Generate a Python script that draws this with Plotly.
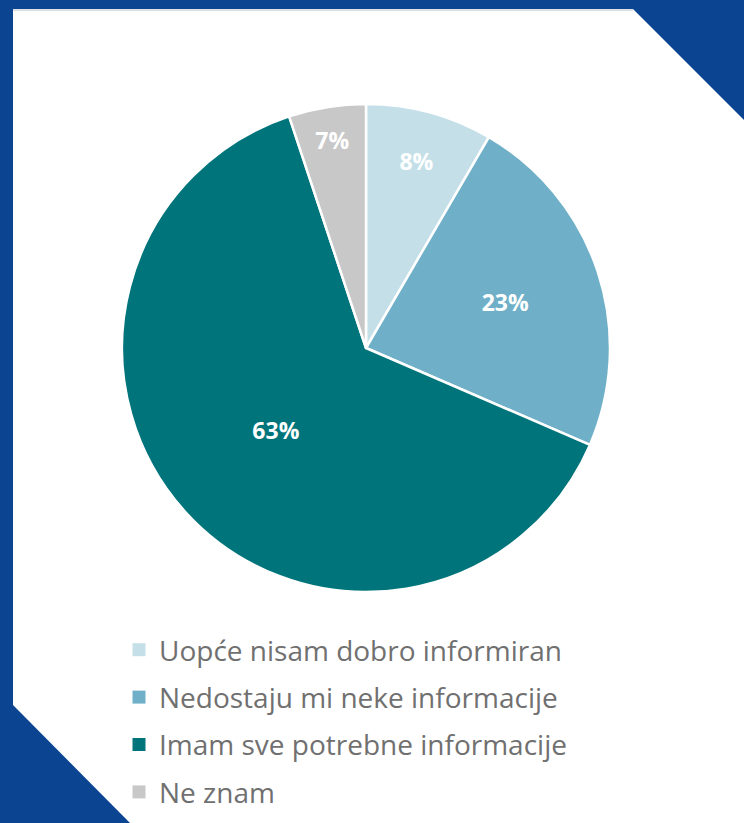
import plotly.graph_objects as go

categories = ["Uopće nisam dobro informiran", "Nedostaju mi neke informacije",
              "Imam sve potrebne informacije", "Ne znam"]
shares = [8.4, 23.1, 63.4, 5.1]          # slice sizes as drawn
pct_labels = ["8%", "23%", "63%", "7%"]  # labels as printed
colors = ["#c5dfe8", "#6fb0c8", "#00747b", "#c8c8c8"]

W, H = 744, 823

def px(x):
    return x / W

def py(y):
    return 1 - y / H

fig = go.Figure()

cx, cy, r = 366, 348, 244
fig.add_trace(go.Pie(
    values=shares, labels=categories, text=pct_labels,
    textinfo="text", textposition="inside", insidetextorientation="horizontal",
    sort=False, direction="clockwise", rotation=0,
    marker=dict(colors=colors, line=dict(color="white", width=2.5)),
    textfont=dict(family="Open Sans", size=23, color="white", weight="bold"),
    domain=dict(x=[px(cx - r), px(cx + r)], y=[py(cy + r), py(cy - r)]),
    showlegend=False, hoverinfo="label+text",
))

for i, (name, c) in enumerate(zip(categories, colors)):
    fig.add_trace(go.Scatter(
        x=[None], y=[None], mode="markers", name=name,
        marker=dict(symbol="square", size=13, color=c),
        legendgroup=f"g{i}", showlegend=True,
    ))

# white content panel with clipped corners over blue frame
path = (f"M {px(13)},{py(9)} L {px(633)},{py(9)} L {px(744)},{py(120)} "
        f"L {px(744)},{py(823)} L {px(130)},{py(823)} L {px(13)},{py(705)} Z")
shapes = [
    dict(type="path", xref="paper", yref="paper", path=path,
         fillcolor="white", line=dict(width=0), layer="below"),
    dict(type="line", xref="paper", yref="paper", x0=px(13), x1=px(633),
         y0=py(10), y1=py(10), line=dict(color="#d0d6dc", width=1.5), layer="below"),
]

fig.update_layout(
    width=W, height=H,
    margin=dict(l=0, r=0, t=0, b=0, autoexpand=False),
    paper_bgcolor="#0b4592", plot_bgcolor="rgba(0,0,0,0)",
    shapes=shapes,
    xaxis=dict(visible=False, domain=[0, 1]),
    yaxis=dict(visible=False, domain=[0, 1]),
    legend=dict(x=px(119), y=py(625), xanchor="left", yanchor="top",
                font=dict(family="Open Sans", size=28, color="#707070"),
                tracegroupgap=8, itemwidth=30, bgcolor="rgba(0,0,0,0)"),
    showlegend=True,
)

fig.write_html("out.html", config={"displayModeBar": False},
               post_script="document.body.style.margin='0';")
